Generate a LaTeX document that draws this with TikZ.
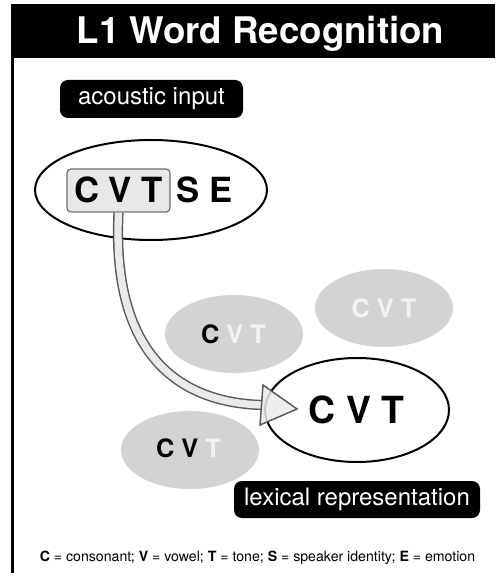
\documentclass[tikz,border=0pt]{standalone}
\usepackage{fontspec}
\setmainfont{TeX Gyre Heros}
\usetikzlibrary{shapes.geometric}

\tikzset{every picture/.style={line width=0.75pt}}
\tikzset{
pill/.style={fill=black, text=white, rounded corners=6pt, inner sep=0pt, font=\fontsize{18}{20}\selectfont},
blob/.style={ellipse, fill={rgb, 255:red, 209; green, 211; blue, 212 }, inner sep=0pt, minimum width=103.5pt, minimum height=58.5pt},
ring/.style={ellipse, draw=black, line width=1.5pt, inner sep=0pt},
letters/.style={anchor=base, inner sep=0pt},
faded/.style={text={rgb, 255:red, 243; green, 243; blue, 244 }}}

\begin{document}
\begin{tikzpicture}[x=0.75pt,y=0.75pt,yscale=-1,xscale=1]
\useasboundingbox (0,0) rectangle (495,573);

%Shape: Title bar
\fill [black] (11,4) rectangle (495,58) ;
\draw [line width=2.2pt] (12.5,57) -- (12.5,573) ;
% Text Node
\node [letters, text=white, font=\bfseries\fontsize{27.5}{30}\selectfont] (title) at (260.5,44) {L1 Word Recognition};

%Shape: Ellipse input
\node [ring, minimum width=174pt, minimum height=75pt] (input) at (151,190) {};
%Shape: Rounded Rect cvt
\node [draw={rgb, 255:red, 109; green, 110; blue, 113 }, fill={rgb, 255:red, 232; green, 232; blue, 233 }, rounded corners=3pt, line width=0.9pt, minimum width=77.25pt, minimum height=32.25pt, inner sep=0pt] (cvt) at (118.5,190.5) {};
% Text Node
\node [letters, font=\bfseries\fontsize{26}{28}\selectfont] (cvttext) at (118.5,203) {C V T};
\node [letters, font=\bfseries\fontsize{26}{28}\selectfont] (se) at (204.5,203) {S E};

%Shape: Grey ellipses
\node [blob] (gA) at (234,334) {};
\node [letters, font=\bfseries\fontsize{19}{21}\selectfont] (gAtext) at (233.5,343) {C \textcolor[RGB]{243,243,244}{V T}};
\node [blob] (gB) at (384,308) {};
\node [letters, faded, font=\bfseries\fontsize{19}{21}\selectfont] (gBtext) at (384,317) {C V T};
\node [blob] (gC) at (190,450) {};
\node [letters, font=\bfseries\fontsize{19}{21}\selectfont] (gCtext) at (188.5,457) {C V \textcolor[RGB]{243,243,244}{T}};

%Shape: Ellipse lexical
\node [ring, minimum width=138pt, minimum height=78pt] (lex) at (357,410) {};
% Text Node
\node [letters, font=\bfseries\fontsize{28}{30}\selectfont] (lextext) at (356.5,423) {C V T};

%Curve Lines: transfer arrow
\coordinate (shaftend) at (261.5,405) ;
\coordinate (tip) at (297,409) ;
\draw [draw={rgb, 255:red, 88; green, 89; blue, 91 }, line width=1.1pt, double={rgb, 255:red, 234; green, 234; blue, 235 }, double distance=5.5pt] (cvt.south) .. controls (112,345) and (170,402) .. (shaftend) ;
\draw [draw={rgb, 255:red, 88; green, 89; blue, 91 }, fill={rgb, 255:red, 234; green, 234; blue, 235 }, fill opacity=0.85, line width=1.1pt, line join=miter] (263,385) -- (tip) -- (260,425) -- cycle ;

% Text Node
\node [pill, minimum width=137.25pt, minimum height=28.5pt] (acoustic) at (151.5,99) {acoustic input};
\node [pill, minimum width=184.5pt, minimum height=27.75pt] (lexical) at (357,499.5) {lexical representation};

% Text Node
\node [letters, font=\fontsize{10.6}{12}\selectfont] (legend) at (257.5,561) {\textbf{C} = consonant; \textbf{V} = vowel; \textbf{T} = tone; \textbf{S} = speaker identity; \textbf{E} = emotion};

\end{tikzpicture}
\end{document}
